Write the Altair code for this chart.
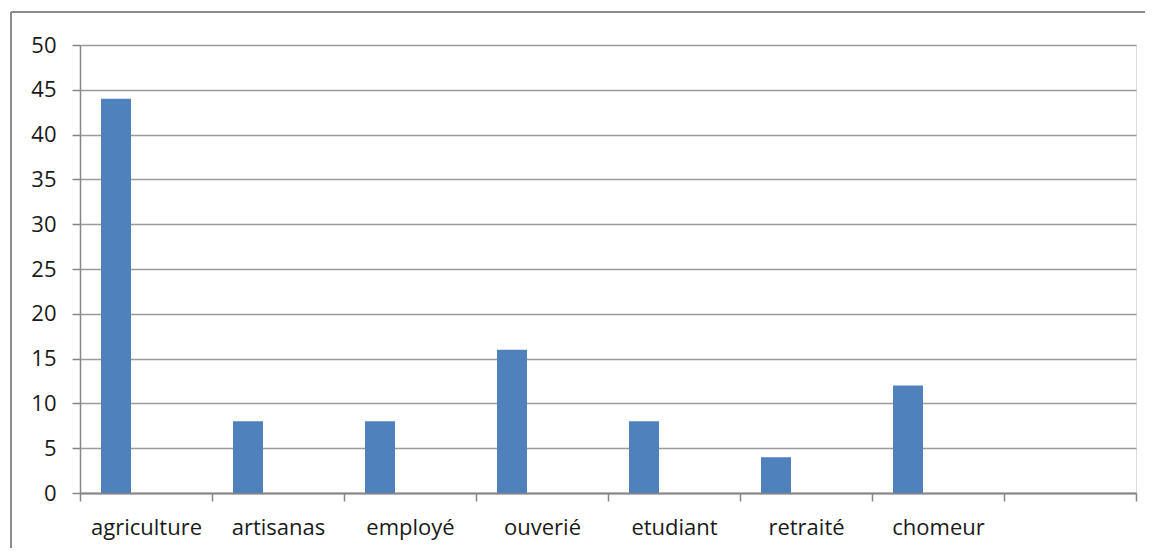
import altair as alt
import pandas as pd

categories = ["agriculture", "artisanas", "employé", "ouverié", "etudiant", "retraité", "chomeur", ""]
shown = ["agriculture", "artisanas", "employé", "ouverié", "etudiant", "retraité", "chomeur"]
values = [44, 8, 8, 16, 8, 4, 12]
series_domain = ["s1", "s2", "s3"]
y_ticks = [0, 5, 10, 15, 20, 25, 30, 35, 40, 45, 50]

df = pd.DataFrame({"cat": shown, "val": values, "series": ["s1"] * len(shown)})

FONT = "Open Sans"
GRID = "#9a9a9a"
AXIS = "#868686"

bars = alt.Chart(df).mark_bar(color="#4F81BD").encode(
    x=alt.X(
        "cat:N",
        sort=categories,
        scale=alt.Scale(domain=categories, paddingInner=0, paddingOuter=0),
        axis=alt.Axis(
            title=None,
            labelAngle=0,
            tickBand="extent",
            tickSize=8,
            tickColor=AXIS,
            tickWidth=1.5,
            domainColor=AXIS,
            domainWidth=2,
            labelFont=FONT,
            labelFontSize=22,
            labelColor="#1a1a1a",
            labelPadding=16,
            grid=False,
        ),
    ),
    xOffset=alt.XOffset(
        "series:N",
        scale=alt.Scale(domain=series_domain, paddingInner=0, paddingOuter=0.7),
    ),
    y=alt.Y(
        "val:Q",
        scale=alt.Scale(domain=[0, 50], nice=False),
        axis=alt.Axis(
            title=None,
            values=y_ticks,
            tickSize=8,
            tickColor=AXIS,
            tickWidth=1.5,
            domainColor=AXIS,
            domainWidth=1.5,
            gridColor=GRID,
            gridWidth=1.5,
            labelFont=FONT,
            labelFontSize=22,
            labelColor="#1a1a1a",
            labelPadding=16,
        ),
    ),
)

border_data = alt.Data(values=[{"k": 1}])
top_border = alt.Chart(border_data).mark_rule(color="#8c8c8c", strokeWidth=2).encode(
    x=alt.value(-69), x2=alt.value(1070), y=alt.value(-33)
)
left_border = alt.Chart(border_data).mark_rule(color="#8c8c8c", strokeWidth=2).encode(
    x=alt.value(-69), y=alt.value(-33), y2=alt.value(505)
)

chart = alt.layer(bars, top_border, left_border).properties(
    width=1056,
    height=448,
    autosize=alt.AutoSizeParams(type="none"),
    padding={"left": 72, "top": 37, "right": 9, "bottom": 55},
).configure_view(stroke=None).configure(background="white")

chart.save("out.html", embed_options={"renderer": "svg", "actions": False})
